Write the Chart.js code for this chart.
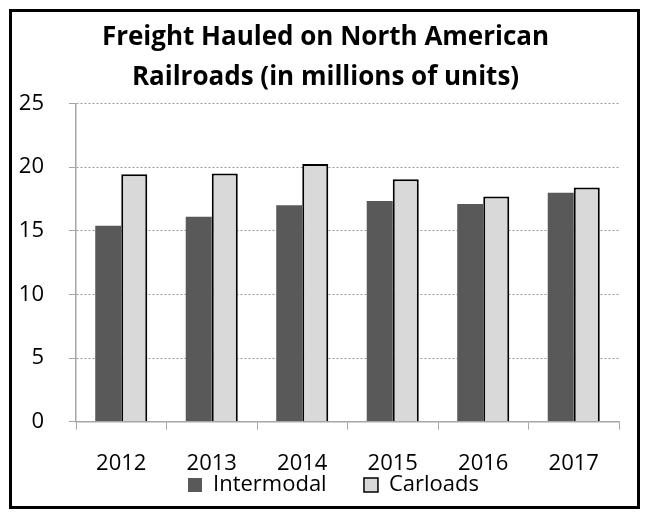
<!DOCTYPE html>
<html lang="en">
<head>
<meta charset="UTF-8">
<title>Freight Hauled on North American Railroads</title>
<script src="https://cdn.jsdelivr.net/npm/chart.js@4.4.1/dist/chart.umd.min.js"></script>
<style>
    body { margin: 0; background: #ffffff; }
    .frame {
        position: absolute;
        left: 9px; top: 9px;
        width: 625px; height: 494px;
        border: 3px solid #000;
        background: #fff;
    }
    canvas { display: block; }
</style>
</head>
<body>
<div class="frame">
    <canvas id="myChart" width="625" height="494"></canvas>
</div>
<script>
    var years = ['2012', '2013', '2014', '2015', '2016', '2017'];
    var intermodal = [15.4, 16.1, 17.0, 17.35, 17.1, 18.0];
    var carloads = [19.45, 19.5, 20.25, 19.05, 17.7, 18.4];
    var yTicks = [0, 5, 10, 15, 20, 25];

    var font = "'Open Sans', sans-serif";

    // title and legend sit a bit right of the plot centre in the original
    var nudgeBlocks = {
        id: 'nudgeBlocks',
        afterLayout: function (chart) {
            if (chart.titleBlock) {
                chart.titleBlock.left += 10;
                chart.titleBlock.right += 10;
            }
            if (chart.legend) {
                chart.legend.left += 18;
                chart.legend.right += 18;
            }
        }
    };

    var ctx = document.getElementById('myChart').getContext('2d');
    var myChart = new Chart(ctx, {
        type: 'bar',
        data: {
            labels: years,
            datasets: [
                {
                    label: 'Intermodal',
                    data: intermodal,
                    backgroundColor: '#595959',
                    borderColor: '#595959',
                    borderWidth: 0
                },
                {
                    label: 'Carloads',
                    data: carloads,
                    backgroundColor: '#d9d9d9',
                    borderColor: '#000000',
                    borderWidth: 2
                }
            ]
        },
        plugins: [nudgeBlocks],
        options: {
            responsive: false,
            animation: false,
            layout: { padding: { left: 0, right: 18, top: 0, bottom: 0 } },
            datasets: {
                bar: { categoryPercentage: 0.575, barPercentage: 1.0 }
            },
            plugins: {
                title: {
                    display: true,
                    text: ['Freight Hauled on North American', 'Railroads (in millions of units)'],
                    color: '#000',
                    font: { family: font, size: 26, weight: 'bold', lineHeight: 1.55 },
                    padding: { top: 5, bottom: 6 }
                },
                legend: {
                    position: 'bottom',
                    labels: {
                        color: '#000',
                        font: { family: font, size: 22 },
                        boxWidth: 14,
                        boxHeight: 14,
                        padding: 3,
                        generateLabels: function (chart) {
                            var items = Chart.defaults.plugins.legend.labels.generateLabels(chart);
                            items.forEach(function (it) {
                                it.lineWidth = it.datasetIndex === 1 ? 1.5 : 0;
                                if (it.datasetIndex === 0) { it.text = it.text + '      '; }
                            });
                            return items;
                        }
                    }
                },
                tooltip: { enabled: false }
            },
            scales: {
                x: {
                    offset: true,
                    afterFit: function (axis) {
                        axis.height -= 27;
                    },
                    grid: {
                        offset: true,
                        drawOnChartArea: false,
                        color: '#a6a6a6',
                        tickLength: 8
                    },
                    border: { color: '#a6a6a6', width: 1.5 },
                    ticks: {
                        color: '#000',
                        font: { family: font, size: 22 },
                        padding: 21
                    }
                },
                y: {
                    min: 0,
                    max: 25,
                    afterBuildTicks: function (axis) {
                        axis.ticks = yTicks.map(function (v) { return { value: v }; });
                    },
                    afterFit: function (axis) {
                        axis.width = 64;
                    },
                    grid: {
                        color: '#9a9a9a',
                        tickBorderDash: [],
                        tickColor: '#a6a6a6',
                        tickLength: 7,
                        lineWidth: 1
                    },
                    border: { color: '#a6a6a6', width: 1.5, dash: [2, 2] },
                    ticks: {
                        color: '#000',
                        font: { family: font, size: 22 },
                        padding: 25
                    }
                }
            }
        }
    });
</script>
</body>
</html>
